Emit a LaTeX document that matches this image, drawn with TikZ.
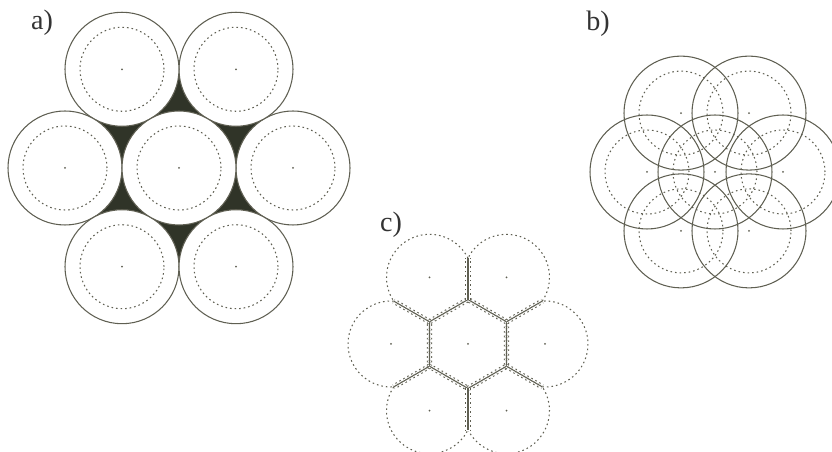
\documentclass[tikz,border=0pt]{standalone}
\usepackage{fontspec}
\setmainfont{Liberation Serif}
\definecolor{penc}{RGB}{95,95,82}
\definecolor{gapc}{RGB}{48,52,40}

\begin{document}
\begin{tikzpicture}[x=0.02cm,y=0.02cm,
  circ/.style={draw=penc,line width=0.6pt},
  dotc/.style={draw=penc,line width=0.6pt,dash pattern=on 0.9pt off 1.7pt},
  lab/.style={font=\fontsize{16}{18}\selectfont,text=black!80}]
  \useasboundingbox (0,0) rectangle (832,452);
  \node[lab] (la) at (42,429) {a)};
  \node[lab] (lb) at (598,428) {b)};
  \node[lab] (lc) at (391,227) {c)};

  % a) touching discs, the gaps round the middle one filled
  \coordinate (A) at (179,284);
  \fill[gapc] ([shift={(0:114)}]A) \foreach \k in {60,120,...,300}{ -- ([shift={(\k:114)}]A)} -- cycle;
  \foreach \k in {0,60,...,300}{
    \coordinate (a\k) at ([shift={(\k:114)}]A);
    \draw[circ,fill=white] (a\k) circle[radius=57];
    \draw[dotc] (a\k) circle[radius=42];
    \fill[penc] (a\k) circle[radius=1];
  }
  \draw[circ,fill=white] (A) circle[radius=57];
  \draw[dotc] (A) circle[radius=42];
  \fill[penc] (A) circle[radius=1];

  % b) same discs pushed together
  \coordinate (B) at (715,280);
  \foreach \k in {0,60,...,300}{
    \coordinate (b\k) at ([shift={(\k:68)}]B);
    \draw[circ] (b\k) circle[radius=57];
    \draw[dotc] (b\k) circle[radius=42];
    \fill[penc] (b\k) circle[radius=1];
  }
  \draw[circ] (B) circle[radius=57];
  \draw[dotc] (B) circle[radius=42];
  \fill[penc] (B) circle[radius=1];

  % c) cells flattened against each other
  \coordinate (C) at (468,108);
  \fill[penc] (C) circle[radius=1];
  \foreach \k in {0,60,...,300}{
    \coordinate (c\k) at ([shift={(\k:77)}]C);
    \pgfmathsetmacro\ta{\k-93.55}
    \pgfmathsetmacro\tb{\k+93.55}
    \draw[dotc] ([shift={(\ta:43)}]c\k) arc[start angle=\ta, end angle=\tb, radius=43];
    \fill[penc] (c\k) circle[radius=1];
  }
  \foreach \k in {30,90,...,330}{
    \coordinate (h\k) at ([shift={(\k:44.46)}]C);
    \coordinate (s\k) at ([shift={(\k:85.8)}]C);
  }
  \foreach \p in {(h30)--(h90)--(h150)--(h210)--(h270)--(h330)--cycle,
                  (h30)--(s30),(h90)--(s90),(h150)--(s150),
                  (h210)--(s210),(h270)--(s270),(h330)--(s330)}{
    \draw[dotc,double=white,double distance=1.8pt] \p;
    \draw[penc,line width=0.6pt] \p;
  }
\end{tikzpicture}
\end{document}
